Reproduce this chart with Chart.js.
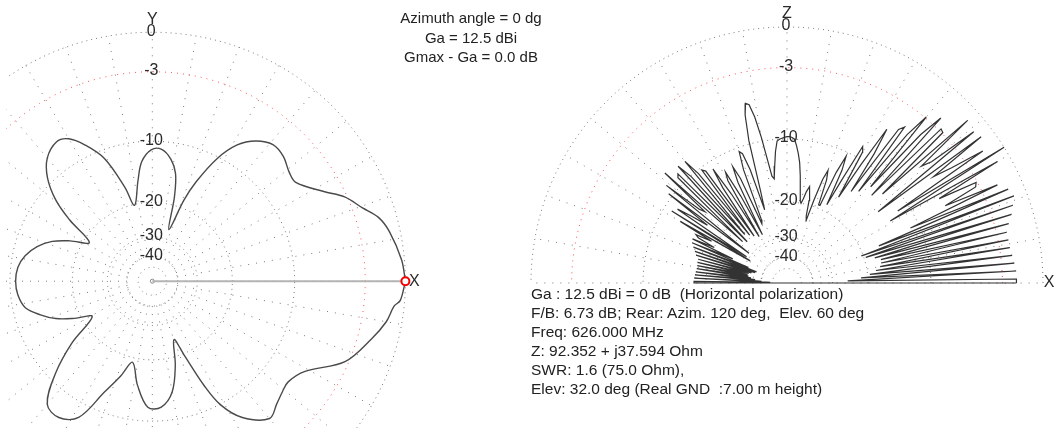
<!DOCTYPE html>
<html>
<head>
<meta charset="utf-8">
<title>Antenna pattern</title>
<script src="https://cdn.jsdelivr.net/npm/chart.js@4.4.1/dist/chart.umd.min.js"></script>
<style>
  html, body { margin: 0; padding: 0; background: #fff; }
  #wrap { position: relative; width: 1054px; height: 434px; overflow: hidden;
          font-family: "Liberation Sans", Arial, sans-serif; color: #222; }
  #wrap canvas { position: absolute; left: 0; top: 0; }
  .info { position: absolute; white-space: pre; }
  #head { left: 371px; width: 200px; top: 8px; font-size: 15px; line-height: 19.5px; text-align: center; }
  #notes { left: 531px; top: 285px; font-size: 15.5px; line-height: 18.9px; }
</style>
</head>
<body>
<div id="wrap">
  <canvas id="azimuth" width="1054" height="434"></canvas>
  <canvas id="elevation" width="1054" height="434"></canvas>
  <div class="info" id="head">Azimuth angle = 0 dg
Ga = 12.5 dBi
Gmax - Ga = 0.0 dB</div>
  <div class="info" id="notes">Ga : 12.5 dBi = 0 dB  (Horizontal polarization)
F/B: 6.73 dB; Rear: Azim. 120 deg,  Elev. 60 deg
Freq: 626.000 MHz
Z: 92.352 + j37.594 Ohm
SWR: 1.6 (75.0 Ohm),
Elev: 32.0 deg (Real GND  :7.00 m height)</div>
</div>
<script>
// ---- Horizontal (azimuth) pattern: direction in degrees (CCW from +X) and relative gain in dB
const azimuthAngles = [
  0, 5, 12, 16, 19.5, 24, 28, 35, 39, 44, 49, 54, 58.5, 62.5, 66.5, 69, 72.5, 75.5, 78, 81.5,
  86, 90.5, 95, 98, 103, 106, 111, 116, 120, 124, 130, 135, 139.5, 143, 148, 153.5, 158, 163, 168.5, 174,
  180, 186, 192, 197, 201.5, 206, 211, 218, 224, 230, 236, 242, 247, 252, 256.5, 262, 268, 274, 280, 285,
  290, 293, 296, 298.5, 303, 310, 315, 319, 323, 329, 337, 345, 350, 354, 355.5
];
const azimuthGain = [
  0, -0.2, -0.75, -1.27, -2.2, -3.2, -4.6, -6.4, -6.3, -5.7, -5.55, -6.3, -7.7, -10.2, -14.4, -18.3, -26.5, -18.3, -14.2, -12.2,
  -11.0, -11.1, -12.7, -15.6, -20.2, -16.3, -11.1, -8.6, -7.2, -6.8, -7.6, -9.3, -12.0, -15.5, -21.3, -17.6, -14.8, -12.9, -11.6, -10.9,
  -10.7, -10.9, -11.6, -13.4, -15.5, -18.7, -22.3, -15.8, -11.0, -7.6, -7.2, -8.3, -12.6, -16.0, -19.0, -15.0, -11.8, -11.8, -13.8, -18.2,
  -24.1, -19.6, -13.3, -9.9, -7.4, -5.7, -6.3, -6.7, -6.9, -6.1, -3.3, -1.9, -1.1, -0.7, -0.3
];

// ---- Vertical (elevation) pattern: relative gain in dB from 0 to 180 deg elevation, 1 deg apart
const elevationStartDeg = 0;
const elevationStepDeg = 1;
const elevationGain = [
  -1.9, -1.9, -25.0, -1.9, -21.5, -2.0, -19.5, -2.1, -18.2, -2.2,
  -17.3, -2.2, -17.0, -2.2, -16.9, -1.9, -17.9, -1.5, -19.6, -1.2,
  -20.4, -0.9, -16.5, -1.1, -11.1, -1.7, -6.5, -3.3, -3.1, -6.7,
  -0.9, -13.1, 0.0, -11.5, -1.4, -4.2, -6.0, -0.9, -13.8, -1.1,
  -5.3, -6.3, -0.9, -11.7, -2.9, -2.8, -12.9, -2.2, -4.3, -12.1,
  -2.9, -5.1, -13.7, -4.7, -5.2, -14.4, -8.6, -5.8, -10.5, -16.3,
  -9.2, -8.6, -13.6, -18.6, -12.4, -10.5, -13.0, -19.3, -19.3, -14.6,
  -13.2, -14.7, -18.7, -23.8, -22.6, -19.1, -17.3, -16.5, -17.5, -19.0,
  -20.0, -19.5, -17.0, -15.0, -13.0, -11.8, -10.8, -10.0, -9.8, -9.7,
  -9.7, -9.8, -9.9, -10.0, -10.2, -11.5, -13.5, -15.5, -15.0, -12.5,
  -9.5, -7.2, -5.9, -5.7, -6.8, -9.6, -17.0, -21.0, -13.3, -10.9,
  -10.5, -13.0, -23.0, -24.0, -14.0, -12.0, -14.4, -27.0, -16.6, -12.2,
  -13.4, -27.0, -15.5, -11.0, -13.9, -26.0, -10.7, -10.3, -25.0, -10.4,
  -8.3, -24.0, -10.1, -8.2, -26.0, -8.8, -9.1, -25.0, -7.7, -14.9,
  -13.9, -8.7, -29.0, -9.5, -16.6, -13.7, -11.5, -29.0, -11.0, -31.0,
  -12.7, -18.9, -15.8, -16.4, -20.0, -15.6, -25.4, -15.8, -31.6, -16.3,
  -35.9, -16.8, -35.3, -17.2, -33.6, -17.8, -32.5, -17.8, -32.1, -17.9,
  -32.6, -17.9, -33.9, -17.8, -36.1, -17.7, -40.1, -17.6, -47.4, -17.6,
  -17.6
];

// ---- Grid rings (dB) and the labels written on the vertical axis
const ringLevels = [0, -3, -10, -20, -30, -40, -50];
const ringLabels = ['0', '-3', '-10', '-20', '-30', '-40'];
const highlightRing = -3;
const spokeStepDeg = 10;
const spokeInnerLevel = -40;

// ---- Layout (pixels)
const W = 1054, H = 434, R = 256;
const AZ_CENTER = { x: 148, y: 283 };
const EL_CENTER = { x: 787, y: 283 };

const LABEL_FONT = '16px "Liberation Sans", Arial, sans-serif';
const TEXT_COLOR = '#2a2a2a';
const GRID_COLOR = '#777777';
const RED_GRID = '#ff5050';

// logarithmic radius: 0 dB on the outer ring, -40 dB at one tenth of it
function radius(db) { return Math.pow(10, db / 40); }
function polar(angleDeg, db) {
  const a = angleDeg * Math.PI / 180, r = radius(db);
  return { x: r * Math.cos(a), y: r * Math.sin(a) };
}
function arc(db, fromDeg, toDeg) {
  const pts = [];
  for (let a = fromDeg; a <= toDeg; a += 1) pts.push(polar(a, db));
  return pts;
}

function gridDatasets(fromDeg, toDeg) {
  const sets = [];
  ringLevels.forEach(level => {
    const red = level === highlightRing;
    sets.push({
      data: arc(level, fromDeg, toDeg), showLine: true, pointRadius: 0,
      borderColor: red ? RED_GRID : GRID_COLOR, borderWidth: 1,
      borderDash: red ? [1, 5] : [1, 4], tension: 0
    });
  });
  const fullTurn = toDeg - fromDeg === 360;
  for (let a = fromDeg; a <= toDeg - (fullTurn ? spokeStepDeg : 0); a += spokeStepDeg) {
    sets.push({
      data: [polar(a, spokeInnerLevel), polar(a, 0)], showLine: true, pointRadius: 0,
      borderColor: GRID_COLOR, borderWidth: 1, borderDash: [1, 7], tension: 0
    });
  }
  return sets;
}

const axisLabelsPlugin = {
  id: 'axisLabels',
  afterDatasetsDraw(chart, args, opts) {
    const { ctx } = chart, sx = chart.scales.x, sy = chart.scales.y;
    const x0 = sx.getPixelForValue(0);
    ctx.save();
    ctx.font = LABEL_FONT;
    ctx.fillStyle = TEXT_COLOR;
    ctx.textAlign = 'center';
    ctx.textBaseline = 'middle';
    ringLabels.forEach((label, i) => {
      ctx.fillText(label, x0 - 1, sy.getPixelForValue(radius(ringLevels[i])) - 1);
    });
    ctx.fillText(opts.up, x0, sy.getPixelForValue(radius(0)) - 13);
    ctx.fillText('X', sx.getPixelForValue(radius(0)) + opts.xGap, sy.getPixelForValue(0));
    ctx.restore();
  }
};

function makeChart(id, center, datasets, labels) {
  return new Chart(document.getElementById(id), {
    type: 'scatter',
    data: { datasets },
    options: {
      responsive: false, animation: false, devicePixelRatio: 1,
      layout: { padding: 0 },
      scales: {
        x: { type: 'linear', display: false, min: -center.x / R, max: (W - center.x) / R },
        y: { type: 'linear', display: false, min: -(H - center.y) / R, max: center.y / R }
      },
      plugins: { legend: { display: false }, tooltip: { enabled: false }, axisLabels: labels }
    },
    plugins: [axisLabelsPlugin]
  });
}

// ---- azimuth chart
const azPoints = azimuthAngles.map((a, i) => polar(a, azimuthGain[i]));
azPoints.push(azPoints[0]);
const peak = polar(azimuthAngles[0], azimuthGain[0]);
makeChart('azimuth', AZ_CENTER, [
  { data: [peak], pointRadius: 4, pointBorderWidth: 2, pointBorderColor: '#f00000',
    pointBackgroundColor: '#ffffff', showLine: false },
  { data: azPoints, showLine: true, pointRadius: 0, borderColor: '#4a4a4a', borderWidth: 1.4, tension: 0.35 },
  { data: [{ x: 0, y: 0 }, peak], showLine: true, pointRadius: 0, borderColor: '#b4b4b4', borderWidth: 2 },
  { data: [{ x: 0, y: 0 }], pointRadius: 2, pointBorderWidth: 1, pointBorderColor: '#888',
    pointBackgroundColor: '#fff', showLine: false },
  ...gridDatasets(0, 360)
], { up: 'Y', xGap: 9 });

// ---- elevation chart
const elPoints = elevationGain.map((g, i) => polar(elevationStartDeg + i * elevationStepDeg, g));
elPoints.push(elPoints[0]);
makeChart('elevation', EL_CENTER, [
  { data: elPoints, showLine: true, pointRadius: 0, borderColor: '#333333', borderWidth: 1.2, tension: 0 },
  ...gridDatasets(0, 180)
], { up: 'Z', xGap: 6 });
</script>
</body>
</html>
